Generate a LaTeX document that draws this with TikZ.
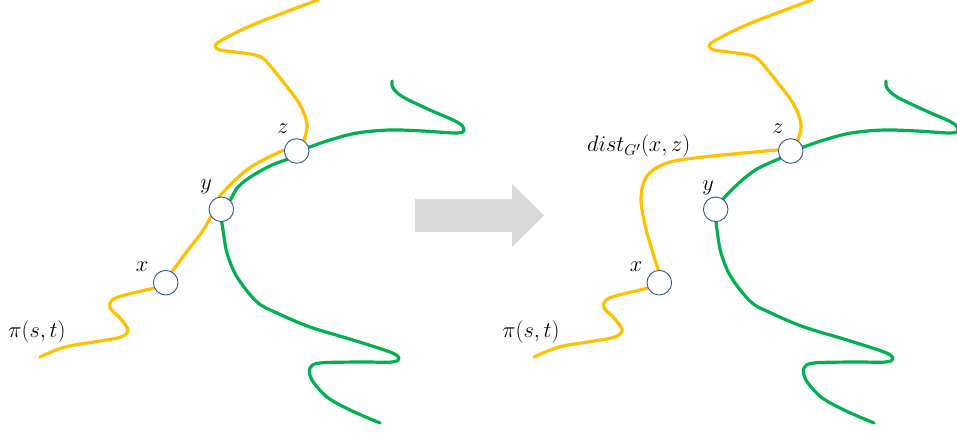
\documentclass[tikz,border=0pt]{standalone}
\usetikzlibrary{backgrounds}
\definecolor{ylw}{HTML}{FFC000}
\definecolor{grn}{HTML}{00B050}
\definecolor{ring}{HTML}{2F5597}
\definecolor{arrowgray}{HTML}{D9D9D9}
\begin{document}
\begin{tikzpicture}[x=1pt,y=-1pt,
  vtx/.style={circle,draw=ring,line width=0.9pt,fill=white,minimum size=24.6pt,inner sep=0pt},
  lbl/.style={font=\huge,inner sep=0pt,scale=1.08},
  ypath/.style={draw=ylw,line width=3.2pt,line cap=round,line join=round},
  gpath/.style={draw=grn,line width=3.2pt,line cap=round,line join=round},
  curve/.style={smooth,tension=0.55}]
\useasboundingbox (0,0) rectangle (957,435);

% ---------------- left panel ----------------
\node[vtx] (x) at (165.7,282.7) {};
\node[vtx] (y) at (221.3,209.3) {};
\node[vtx] (z) at (296.7,151) {};
\node[lbl] (lx) at (142,267) {$x$};
\node[lbl] (ly) at (206,187) {$y$};
\node[lbl] (lz) at (283,129) {$z$};
\node[lbl] (lpi) at (37,332) {$\pi(s,t)$};

\begin{scope}[on background layer]
  \draw[ypath] plot[curve] coordinates {(40,357) (65,347) (100,341) (121,337) (128,330) (120,318) (110,308) (112,300) (125,295) (150,289) (x.205)};
  \draw[ypath] plot[curve] coordinates {(x.60) (188,250) (202,232) (y.215)};
  \draw[ypath] plot[curve] coordinates {(y.100) (232,183) (248,169) (265,159) (z.175)};
  \draw[ypath] plot[curve] coordinates {(z.56) (307,128) (305,116) (297,100) (280,78) (265,60) (255,55) (235,52) (220,50) (215,46) (222,40) (250,26) (283,13) (318,0)};
  \draw[gpath] plot[curve] coordinates {(z.17) (330,140) (357,133) (390,130) (423,131) (458,133) (464,129) (457,122) (430,110) (403,97) (393,88) (392,81)};
  \draw[gpath] plot[curve] coordinates {(z.222) (272,165) (252,176) (238,187) (y.45)};
  \draw[gpath] plot[curve] coordinates {(y.272) (223,230) (227,253) (237,277) (257,302) (277,313) (310,327) (353,340) (390,352) (399,358) (392,362) (360,362) (320,363) (310,368) (312,380) (327,397) (350,410) (380,423)};
\end{scope}

% ---------------- arrow ----------------
\fill[arrowgray] (415,199) -- (512,199) -- (512,184) -- (544,215.5) -- (512,247) -- (512,232) -- (415,232) -- cycle;

% ---------------- right panel ----------------
\begin{scope}[xshift=494pt]
  \node[vtx] (x2) at (165.3,282.7) {};
  \node[vtx] (y2) at (221.7,209.3) {};
  \node[vtx] (z2) at (296.7,151) {};
  \node[lbl] (lx2) at (142,267) {$x$};
  \node[lbl] (ly2) at (214,188) {$y$};
  \node[lbl] (lz2) at (284,129) {$z$};
  \node[lbl] (lpi2) at (37,332) {$\pi(s,t)$};
  \node[lbl,anchor=base west] (ld) at (93,152) {$dist_{G'}(x,z)$};

  \begin{scope}[on background layer]
    \draw[ypath] plot[curve] coordinates {(40,357) (65,347) (100,341) (121,337) (128,330) (120,318) (110,308) (112,300) (125,295) (150,289) (x2.205)};
    \draw[ypath] plot[curve] coordinates {(x2.95) (158,250) (151,225) (147,198) (153,176) (173,163) (209,157) (z2.175)};
    \draw[ypath] plot[curve] coordinates {(z2.56) (307,128) (305,116) (297,100) (280,78) (265,60) (255,55) (235,52) (220,50) (215,46) (222,40) (250,26) (283,13) (318,0)};
    \draw[gpath] plot[curve] coordinates {(z2.17) (330,140) (357,133) (390,130) (423,131) (458,133) (464,129) (457,122) (430,110) (403,97) (393,88) (392,81)};
    \draw[gpath] plot[curve] coordinates {(y2.55) (246,182) (263,169) (z2.215)};
    \draw[gpath] plot[curve] coordinates {(y2.272) (223,230) (227,253) (237,277) (257,302) (277,313) (310,327) (353,340) (390,352) (399,358) (392,362) (360,362) (320,363) (310,368) (312,380) (327,397) (350,410) (380,423)};
  \end{scope}
\end{scope}
\end{tikzpicture}
\end{document}
